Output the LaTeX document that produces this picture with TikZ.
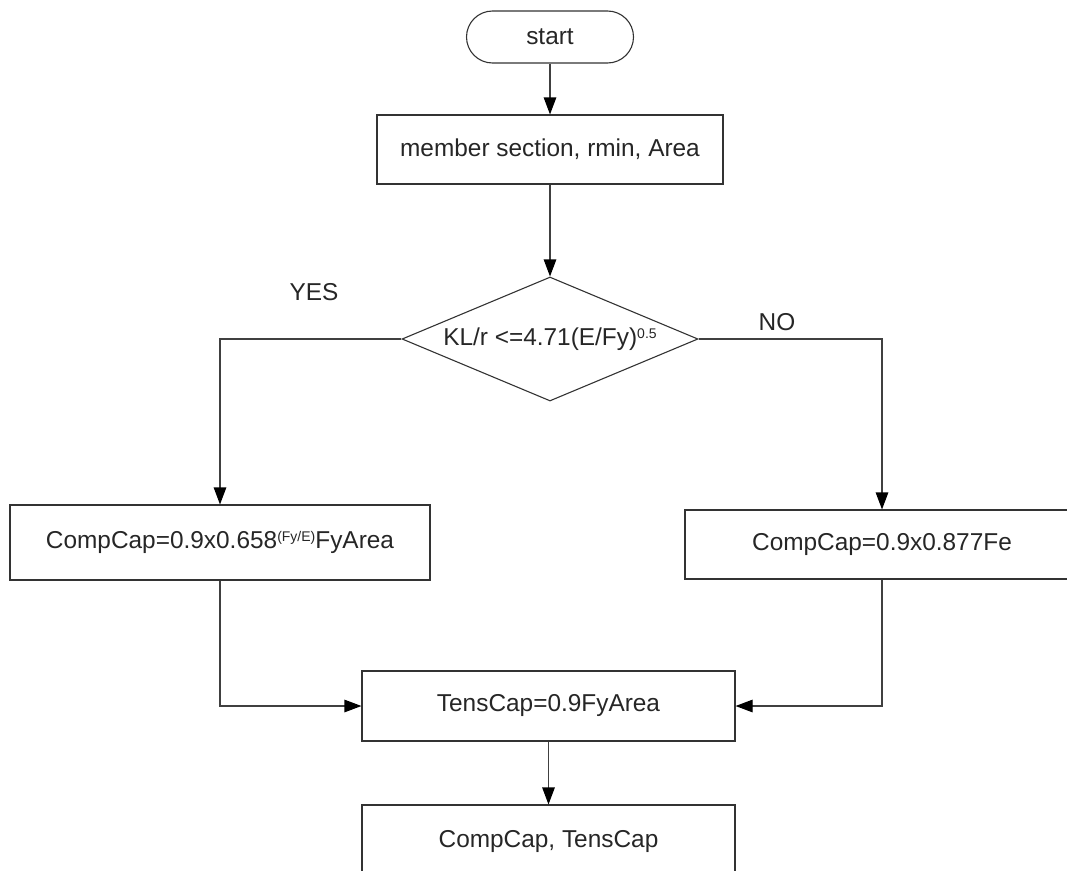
\documentclass[tikz,border=0pt]{standalone}
\usepackage{fontspec}
\setmainfont{Liberation Sans}
\usetikzlibrary{arrows.meta,shapes.geometric}
% raised small text for exponents
\newcommand\expo[1]{\raisebox{0.55ex}{\fontsize{14}{14}\selectfont #1}}
\begin{document}
\begin{tikzpicture}[x=1pt,y=-1pt,
  every node/.style={font=\fontsize{24.4}{29}\selectfont, text=black!85},
  box/.style={draw=black!80, line width=1.1pt, rectangle, inner sep=0pt},
  terminal/.style={box, rounded corners=26pt},
  decision/.style={draw=black!80, line width=1.1pt, diamond, inner sep=0pt, shape aspect=2.39},
  flow/.style={draw=black!75, line width=1.1pt, -{Triangle[length=17pt,width=12.5pt,color=black]}},
  tag/.style={inner sep=0pt}
]
\useasboundingbox (0,0) rectangle (1067,870);
\begin{scope}
\clip (0,0) rectangle (1067,870);

% process steps
\node[terminal, minimum width=167pt, minimum height=52pt] (start) at (550,37) {start};
\node[box, minimum width=346pt, minimum height=69pt] (member) at (550,149.5) {member section, rmin, Area};
\node[decision, minimum width=296pt, minimum height=124pt] (check) at (550,339) {KL/r <=4.71(E/Fy)\expo{0.5}};
\node[box, minimum width=420pt, minimum height=75pt] (inelastic) at (220,542.5) {CompCap=0.9x0.658\expo{(Fy/E)}FyArea};
\node[box, minimum width=394pt, minimum height=69pt] (elastic) at (882,544.5) {CompCap=0.9x0.877Fe};
\node[box, minimum width=373pt, minimum height=70pt] (tens) at (548.5,706) {TensCap=0.9FyArea};
\node[box, minimum width=373pt, minimum height=72pt] (result) at (548.5,841) {CompCap, TensCap};

% branch labels
\node[tag] (yes) at (314,292) {YES};
\node[tag] (no) at (777,322) {NO};

% connectors
\draw[flow] (start) -- (member);
\draw[flow] (member) -- (check);
\draw[flow] (check.west) -| (inelastic.north);
\draw[flow] (check.east) -| (elastic.north);
\draw[flow] (inelastic.south) |- (tens.west);
\draw[flow] (elastic.south) |- (tens.east);
\draw[flow] (tens) -- (result);
\end{scope}
\end{tikzpicture}
\end{document}
